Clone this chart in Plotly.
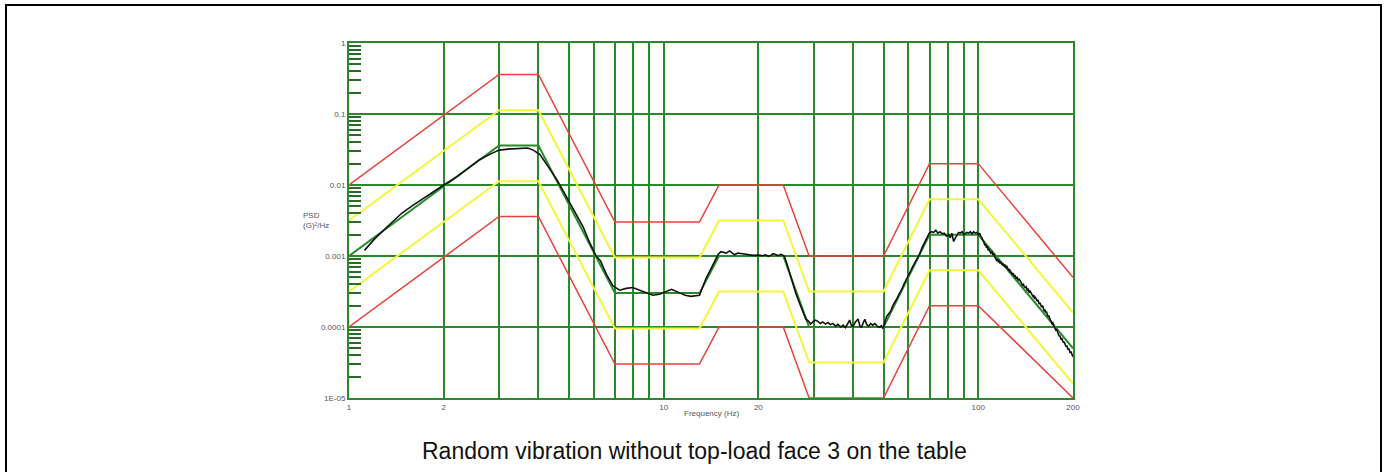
import plotly.graph_objects as go

# Profile breakpoints (Hz) shared by reference / tolerance lines
profile_freq = [1, 3, 4, 7, 13, 15, 24, 29, 50, 70, 100, 200]
reference_psd = [0.001, 0.036, 0.036, 0.0003, 0.0003, 0.001, 0.001, 0.0001, 0.0001, 0.002, 0.002, 0.00005]
red_upper = [0.01, 0.36, 0.36, 0.003, 0.003, 0.01, 0.01, 0.001, 0.001, 0.02, 0.02, 0.0005]
yellow_upper = [0.00316, 0.113, 0.113, 0.00095, 0.00095, 0.00316, 0.00316, 0.000316, 0.000316, 0.0063, 0.0063, 0.00016]
yellow_lower = [0.000316, 0.0113, 0.0113, 0.000095, 0.000095, 0.000316, 0.000316, 0.0000316, 0.0000316, 0.00063, 0.00063, 0.000016]
red_lower = [0.0001, 0.0036, 0.0036, 0.00003, 0.00003, 0.0001, 0.0001, 0.00001, 0.00001, 0.0002, 0.0002, 0.00001]

meas_freq_low = [1.12, 1.2, 1.3, 1.4, 1.47, 1.6, 1.75, 1.9, 2.0, 2.2, 2.4, 2.6, 2.8, 3.0, 3.2, 3.5, 3.7, 3.85,
             4.04, 4.3, 4.57, 4.8, 5.03, 5.3, 5.54, 5.8, 6.1, 6.3, 6.58, 6.9, 7.25, 7.6, 7.98, 8.39, 8.81,
             9.24, 9.7, 10.2, 10.6, 11.1, 11.7, 12.2, 13.0, 13.6, 14.3, 14.9, 15.2, 15.8, 16.2, 16.8, 17.2,
             17.6, 18.1, 18.5, 19.2, 20.1, 20.6, 21.1, 21.5, 21.9, 22.3, 22.7, 23.2, 23.6, 24.2, 24.6, 25.0,
             25.4, 25.9, 26.3, 27.0, 27.5, 27.9, 28.3, 28.9, 29.3, 29.9, 30.4, 30.9, 31.5, 32.0, 32.7, 33.3,
             33.9, 34.5, 35.2, 35.8, 36.6, 37.2, 37.8, 38.5, 39.0, 39.5, 40.0, 40.7, 41.5, 42.0, 42.5, 43.1,
             43.6, 44.2, 44.8, 45.5, 46.2, 46.9, 47.7, 48.5, 49.2, 49.8, 50.3, 51.1, 52.0, 52.8, 53.5, 54.3,
             55.1, 56.2, 57.0, 58.0, 59.0, 60.0, 61.0, 61.9, 63.0, 64.0, 65.0, 66.2, 67.3, 68.5, 69.9, 71.0,
             72.1, 73.3, 74.4, 75.6, 76.9, 78.0, 79.2, 80.6, 81.5, 82.4, 83.5, 84.6, 85.6, 86.6, 87.7, 88.8,
             90.0, 91.0, 92.0, 93.2, 94.3, 95.5, 96.6, 97.7, 98.8, 100.2]
meas_psd_low = [0.0012, 0.0017, 0.0024, 0.0033, 0.004, 0.0052, 0.0068, 0.0087, 0.01, 0.013, 0.0175, 0.0227, 0.027,
            0.031, 0.032, 0.033, 0.0332, 0.031, 0.027, 0.018, 0.012, 0.0082, 0.0056, 0.0037, 0.0026, 0.0016,
            0.001, 0.00085, 0.00055, 0.00038, 0.00033, 0.00035, 0.00036, 0.00033, 0.0003, 0.00028, 0.00029,
            0.00032, 0.00034, 0.00031, 0.00028, 0.00027, 0.00028, 0.00047, 0.00072, 0.00105, 0.00115, 0.0011,
            0.00118, 0.00104, 0.0011, 0.00108, 0.00106, 0.00104, 0.00102, 0.00103, 0.00101, 0.00104, 0.00099,
            0.00102, 0.00108, 0.00105, 0.00101, 0.00106, 0.00099, 0.0008, 0.00062, 0.00048, 0.00038, 0.0003,
            0.00022, 0.00018, 0.00015, 0.00013, 0.00012, 0.00011, 0.00012, 0.000125, 0.00012, 0.000112,
            0.000118, 0.00011, 0.000116, 0.000108, 0.000112, 0.000103, 0.000109, 0.0001, 0.000106, 0.000098,
            0.000112, 0.000125, 0.000105, 0.000102, 0.000118, 0.00013, 0.000105, 0.000098, 0.000115, 0.000128,
            0.000108, 0.000102, 0.000112, 0.000106, 0.000112, 0.000103, 0.000099, 0.000104, 0.000095, 0.00011,
            0.00014, 0.000155, 0.00017, 0.0002, 0.00022, 0.00025, 0.0003, 0.00033, 0.0004, 0.00046, 0.00052,
            0.00062, 0.00071, 0.00082, 0.00095, 0.00105, 0.0013, 0.0015, 0.0018, 0.0021, 0.0022, 0.00215,
            0.0023, 0.0021, 0.0022, 0.00205, 0.0021, 0.0019, 0.002, 0.0018, 0.0021, 0.0016, 0.0018, 0.002,
            0.00215, 0.0021, 0.0022, 0.002, 0.0021, 0.00215, 0.0021, 0.0022, 0.00205, 0.0022, 0.0021, 0.00215,
            0.002]

# Measured response above 100 Hz
meas_freq_high = [101.0, 101.8, 102.7, 103.4, 104.0,
                  104.6, 105.0, 105.6, 106.2, 106.8, 107.5, 108.1, 108.8, 109.6, 110.5, 111.2, 111.8, 112.4, 113.0,
                  113.7, 114.3, 115.0, 115.6, 116.3, 117.0, 117.8, 118.5, 119.2, 120.0, 121.0, 122.0, 122.7, 123.5,
                  124.2, 125.0, 125.8, 126.6, 127.4, 128.2, 129.1, 130.0, 130.9, 131.8, 132.9, 134.0, 135.0, 136.0,
                  137.0, 138.0, 139.0, 140.0, 141.0, 142.0, 143.0, 144.0, 145.0, 146.0, 147.6, 149.3, 150.1, 151.0,
                  152.0, 153.0, 154.0, 155.0, 156.0, 157.0, 158.0, 159.0, 160.0, 161.0, 162.0, 163.0, 163.8, 164.6,
                  165.5, 166.5, 167.5, 168.5, 169.5, 170.5, 171.5, 172.5, 173.5, 174.5, 175.5, 176.5, 177.5, 178.5,
                  179.6, 180.7, 181.6, 182.5, 183.5, 184.5, 185.5, 186.5, 187.5, 188.5, 189.2, 190.0, 191.0, 192.0,
                  193.0, 194.0, 195.0, 196.0, 197.0, 198.0, 199.0, 200.0]
meas_psd_high = [0.0021, 0.0019, 0.0018, 0.00165, 0.0016,
                 0.00148, 0.0014, 0.00146, 0.0013, 0.00138, 0.0012, 0.00126, 0.00118, 0.0011, 0.00114, 0.00104, 0.00108, 0.00098, 0.00096,
                 0.00092, 0.00087, 0.0009, 0.00084, 0.00086, 0.00079, 0.00083, 0.00077, 0.00074, 0.00078, 0.00072, 0.00075, 0.00068, 0.0007,
                 0.00066, 0.00062, 0.00065, 0.00058, 0.0006, 0.00055, 0.00057, 0.00052, 0.00053, 0.00049, 0.0005, 0.00046, 0.00047, 0.00043,
                 0.00042, 0.00039, 0.0004, 0.00037, 0.00036, 0.00037, 0.00033, 0.00034, 0.00031, 0.00032, 0.00029, 0.00027, 0.00028, 0.00025,
                 0.00026, 0.00024, 0.00023, 0.00024, 0.00021, 0.00022, 0.0002, 0.00019, 0.0002, 0.00018, 0.00017, 0.000175, 0.00016, 0.000165,
                 0.00015, 0.00014, 0.000145, 0.00013, 0.000125, 0.00012, 0.000112, 0.000115, 0.000104, 0.0001, 0.000095, 0.00009, 0.000092, 0.000084,
                 0.000078, 0.000074, 0.000076, 0.00007, 0.000066, 0.000068, 0.000062, 0.00006, 0.000062, 0.000056, 0.000054, 0.000053, 0.000055, 0.00005,
                 0.000048, 0.00005, 0.000045, 0.000043, 0.000045, 0.000041, 0.00004, 0.000038]

x_tick_vals = [1, 2, 3, 4, 5, 6, 7, 8, 9, 10, 20, 30, 40, 50, 60, 70, 80, 90, 100, 200]
x_tick_text = ["1", "2", "", "", "", "", "", "", "", "10", "20", "", "", "", "", "", "", "", "100", "200"]
y_tick_vals = [1e-5, 1e-4, 1e-3, 1e-2, 1e-1, 1]
y_tick_text = ["1E-05", "0.0001", "0.001", "0.01", "0.1", "1"]
y_minor_vals = [m * 10.0 ** e for e in range(-5, 0) for m in range(2, 10)]

GREEN = "#2a8a2a"
RED = "#e8403c"
YELLOW = "#f5f53c"

fig = go.Figure()
for vals, col, w in [(red_upper, RED, 1.5), (red_lower, RED, 1.5),
                     (yellow_upper, YELLOW, 2), (yellow_lower, YELLOW, 2),
                     (reference_psd, GREEN, 2)]:
    fig.add_trace(go.Scatter(x=profile_freq, y=vals, mode="lines",
                             line=dict(color=col, width=w), showlegend=False, hoverinfo="skip"))
fig.add_trace(go.Scatter(x=meas_freq_low + meas_freq_high, y=meas_psd_low + meas_psd_high, mode="lines",
                         line=dict(color="#111111", width=1.6), showlegend=False))

W, H = 1388, 472
L, R, T, B = 349, 315, 43, 74
pw, ph = W - L - R, H - T - B

fig.update_layout(
    width=W, height=H,
    margin=dict(l=L, r=R, t=T, b=B, pad=0),
    paper_bgcolor="white", plot_bgcolor="white",
    font=dict(family="Liberation Sans, Arial, sans-serif", size=8, color="#444444"),
    xaxis=dict(type="log", range=[0, 2.30103], tickmode="array", tickvals=x_tick_vals,
               ticktext=x_tick_text, showgrid=True, gridcolor=GREEN, gridwidth=1.5,
               showline=True, linecolor=GREEN, linewidth=2, mirror=True, ticks="",
               zeroline=False, tickfont=dict(size=8, color="#555555")),
    yaxis=dict(type="log", range=[-5, 0], tickmode="array", tickvals=y_tick_vals,
               ticktext=y_tick_text, showgrid=True, gridcolor=GREEN, gridwidth=2,
               showline=True, linecolor=GREEN, linewidth=2, mirror=True, ticks="",
               zeroline=False, tickfont=dict(size=8, color="#555555"),
               minor=dict(tickmode="array", tickvals=y_minor_vals, ticks="inside",
                          ticklen=12, tickwidth=2, tickcolor="#2a6a2a", showgrid=False)),
)

def px_x(p):
    return (p - L) / pw

def px_y(p):
    return (H - B - p) / ph

fig.add_annotation(x=px_x(711), y=px_y(413), xref="paper", yref="paper", text="Frequency (Hz)",
                   showarrow=False, xanchor="center", yanchor="middle",
                   font=dict(size=8, color="#555555"))
fig.add_annotation(x=px_x(316), y=px_y(220), xref="paper", yref="paper", text="PSD<br>(G)²/Hz",
                   showarrow=False, align="left", xanchor="center", yanchor="middle",
                   font=dict(size=8, color="#555555"))
fig.add_annotation(x=px_x(694), y=px_y(451), xref="paper", yref="paper",
                   text="Random vibration without top-load face 3 on the table",
                   showarrow=False, xanchor="center", yanchor="middle",
                   font=dict(size=23, color="#111111",
                             family="Liberation Sans, Arial, sans-serif"))

# outer frame of the figure
fig.add_shape(type="rect", xref="paper", yref="paper",
              x0=px_x(6), x1=px_x(1381), y0=px_y(480), y1=px_y(5),
              line=dict(color="black", width=2), fillcolor="rgba(0,0,0,0)", layer="below")

fig.write_html("out.html", config={"displayModeBar": False},
               post_script="document.body.style.margin='0px';")
